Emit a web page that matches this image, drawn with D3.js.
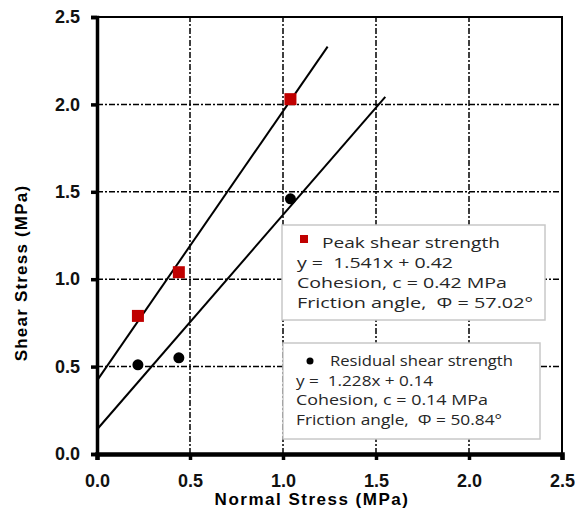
<!DOCTYPE html>
<html>
<head>
<meta charset="utf-8">
<script src="https://cdn.jsdelivr.net/npm/d3@7"></script>
<style>
  body { margin: 0; background: #fff; }
  svg { display: block; }
</style>
</head>
<body>
<div id="chart"></div>
<script>
// data
const peakX = [0.22, 0.44, 1.04];
const peakY = [0.79, 1.04, 2.03];
const resX = [0.22, 0.44, 1.04];
const resY = [0.51, 0.55, 1.46];

// fitted lines: slope, intercept, end of drawn line (x)
const peakFit = { m: 1.541, c: 0.42, xEnd: 1.24 };
const resFit = { m: 1.228, c: 0.14, xEnd: 1.55 };

const xTicks = [0, 0.5, 1.0, 1.5, 2.0, 2.5];
const yTicks = [0, 0.5, 1.0, 1.5, 2.0, 2.5];

const peakLegend = ["Peak shear strength", "y =  1.541x + 0.42", "Cohesion, c = 0.42 MPa", "Friction angle,  \u03A6 = 57.02\u00B0"];
const resLegend = ["Residual shear strength", "y =  1.228x + 0.14", "Cohesion, c = 0.14 MPa", "Friction angle,  \u03A6 = 50.84\u00B0"];

const width = 575, height = 513;
const margin = { left: 97, top: 17, right: 13, bottom: 59 };

const svg = d3.select("#chart").append("svg")
    .attr("width", width)
    .attr("height", height);

const x = d3.scaleLinear().domain([0, 2.5]).range([margin.left, width - margin.right]);
const y = d3.scaleLinear().domain([0, 2.5]).range([height - margin.bottom, margin.top]);

// grid lines (dash-dot)
const grid = svg.append("g").attr("stroke", "#000").attr("stroke-width", 1.5)
    .attr("stroke-dasharray", "6,2,2,2");
grid.selectAll(".gx").data(xTicks.slice(1, -1)).enter().append("line")
    .attr("x1", d => x(d)).attr("x2", d => x(d))
    .attr("y1", y(0)).attr("y2", y(2.5));
grid.selectAll(".gy").data(yTicks.slice(1, -1)).enter().append("line")
    .attr("y1", d => y(d)).attr("y2", d => y(d))
    .attr("x1", x(0)).attr("x2", x(2.5));

// top and right frame
svg.append("path")
    .attr("d", `M${x(0)},${y(2.5)}H${x(2.5)}V${y(0)}`)
    .attr("fill", "none").attr("stroke", "#000").attr("stroke-width", 2);

// axes
const xAxis = svg.append("g")
    .attr("transform", `translate(0,${y(0)})`)
    .call(d3.axisBottom(x).tickValues(xTicks).tickFormat(d3.format(".1f")).tickSize(6).tickPadding(14));
const yAxis = svg.append("g")
    .attr("transform", `translate(${x(0)},0)`)
    .call(d3.axisLeft(y).tickValues(yTicks).tickFormat(d3.format(".1f")).tickSize(6).tickPadding(11));

xAxis.select(".domain").attr("stroke-width", 4.5);
yAxis.select(".domain").attr("stroke-width", 3.5);
svg.selectAll(".tick line").attr("stroke-width", 3.5);
svg.selectAll(".tick text")
    .style("font-family", "Liberation Sans, Arial, sans-serif")
    .style("font-size", "18px")
    .style("font-weight", "bold")
    .attr("fill", "#111");

// fitted lines
const line = d3.line().x(d => x(d[0])).y(d => y(d[1]));
[peakFit, resFit].forEach(f => {
  svg.append("path")
      .attr("d", line([[0, f.c], [f.xEnd, f.m * f.xEnd + f.c]]))
      .attr("fill", "none").attr("stroke", "#000").attr("stroke-width", 2);
});

// points
svg.selectAll(".peak").data(peakX.map((v, i) => [v, peakY[i]])).enter().append("rect")
    .attr("x", d => x(d[0]) - 6).attr("y", d => y(d[1]) - 6)
    .attr("width", 12).attr("height", 12)
    .attr("fill", "#c00000");
svg.selectAll(".res").data(resX.map((v, i) => [v, resY[i]])).enter().append("circle")
    .attr("cx", d => x(d[0])).attr("cy", d => y(d[1]))
    .attr("r", 5.5).attr("fill", "#000");

// legends (text widths fitted to the picture)
function legend(lines, box, fontSize, dy, widths, marker) {
  const g = svg.append("g");
  g.append("rect")
      .attr("x", box.x).attr("y", box.y).attr("width", box.w).attr("height", box.h)
      .attr("fill", "#fff").attr("stroke", "#c8c8c8").attr("stroke-width", 1.5);
  lines.forEach((t, i) => {
    g.append("text")
        .attr("x", i === 0 ? box.titleX : box.textX)
        .attr("y", box.firstY + i * dy)
        .attr("textLength", widths[i])
        .attr("lengthAdjust", "spacingAndGlyphs")
        .style("font-family", "Open Sans, sans-serif")
        .style("font-size", fontSize + "px")
        .style("white-space", "pre")
        .attr("fill", "#262626")
        .text(t);
  });
  marker(g, box);
}

legend(peakLegend, { x: 282, y: 225, w: 263, h: 95, titleX: 322, textX: 297, firstY: 248 }, 14.5, 20,
  [178, 156, 210, 236],
  (g, b) => g.append("rect").attr("x", b.x + 18).attr("y", b.y + 10).attr("width", 8).attr("height", 8).attr("fill", "#c00000"));

legend(resLegend, { x: 283, y: 343, w: 257, h: 96, titleX: 330, textX: 296, firstY: 366 }, 14, 19.5,
  [183, 137, 192, 206],
  (g, b) => g.append("circle").attr("cx", b.x + 27).attr("cy", b.y + 18).attr("r", 3.5).attr("fill", "#000"));

// axis titles
svg.append("text")
    .attr("x", 312).attr("y", 505)
    .attr("text-anchor", "middle")
    .style("font-family", "Liberation Sans, Arial, sans-serif")
    .style("font-size", "17px").style("font-weight", "bold")
    .style("letter-spacing", "1.5px")
    .text("Normal Stress (MPa)");
svg.append("text")
    .attr("transform", "translate(27,273) rotate(-90)")
    .attr("text-anchor", "middle")
    .style("font-family", "Liberation Sans, Arial, sans-serif")
    .style("font-size", "17px").style("font-weight", "bold")
    .style("letter-spacing", "1.2px")
    .text("Shear Stress (MPa)");
</script>
</body>
</html>
